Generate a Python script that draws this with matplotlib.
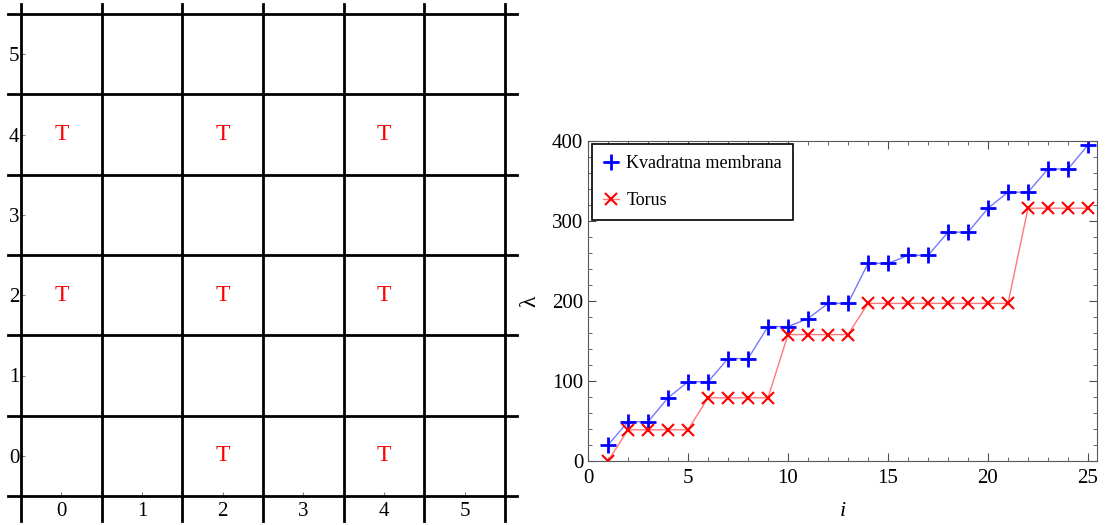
import numpy as np
import matplotlib
matplotlib.use("Agg")
import matplotlib.pyplot as plt

plt.rcParams['font.family'] = ['Liberation Serif', 'DejaVu Serif']

# left panel: 6x6 lattice, cells marked with T
grid_n = 6
t_cells_x = [0, 2, 4, 0, 2, 4, 2, 4]
t_cells_y = [4, 4, 4, 2, 2, 2, 0, 0]

# right panel: eigenvalues
idx = np.arange(1, 26)
membrana = [20, 49, 49, 79, 99, 99, 128, 128, 168, 168, 178, 197, 197,
            247, 247, 257, 257, 286, 286, 316, 336, 336, 365, 365, 395]
torus = [0, 39, 39, 39, 39, 79, 79, 79, 79, 158, 158, 158, 158,
         197, 197, 197, 197, 197, 197, 197, 197, 316, 316, 316, 316]

W, H = 1110, 525
fig = plt.figure(figsize=(W / 100, H / 100), dpi=100)

def px_axes(x0, y0, x1, y1):
    return fig.add_axes([x0 / W, (H - y1) / H, (x1 - x0) / W, (y1 - y0) / H])

# ---- left grid
ax = px_axes(21, 14, 505, 496)
ax.set_xlim(-0.5, grid_n - 0.5)
ax.set_ylim(-0.5, grid_n - 0.5)
for s in ax.spines.values():
    s.set_visible(False)
for k in range(grid_n + 1):
    v = k - 0.5
    ax.plot([-0.661, 5.649], [v, v], color='black', lw=2, clip_on=False)
    ax.plot([v, v], [-0.811, 5.624], color='black', lw=2, clip_on=False)
for cx, cy in zip(t_cells_x, t_cells_y):
    ax.text(cx, cy, 'T', color='red', fontsize=17, ha='center', va='center')
ax.set_xticks(range(grid_n))
ax.set_yticks(range(grid_n))
ax.tick_params(direction='in', length=3, width=0.8, color='0.5',
               labelsize=15, pad=4)
ax.tick_params(axis='y', pad=1)

# ---- right chart
ax2 = px_axes(588, 141, 1097, 461)
ax2.plot(idx, membrana, color='#7878ff', lw=1, marker='+', ms=11, mew=2,
         mec='blue', label='Kvadratna membrana')
ax2.plot(idx, torus, color='#ff7878', lw=1, marker='x', ms=8, mew=1.5,
         mec='red', label='Torus')
ax2.set_xlim(0, 25.45)
ax2.set_ylim(0, 400)
ax2.set_xticks(range(0, 26, 5))
ax2.set_xticks(range(0, 26), minor=True)
ax2.set_yticks(range(0, 401, 100))
ax2.set_yticks(range(0, 401, 20), minor=True)
ax2.tick_params(which='both', direction='in', top=True, right=True,
                labelsize=15, color='0.3')
ax2.tick_params(which='major', length=6)
ax2.tick_params(which='minor', length=3)
ax2.tick_params(axis='x', pad=6)
for s in ax2.spines.values():
    s.set_color('0.35')
ax2.set_xlabel('i', fontsize=16, style='italic', labelpad=10)
ax2.set_ylabel('λ', fontsize=17, labelpad=8)
leg = ax2.legend(loc='upper left', bbox_to_anchor=(0.008, 0.99),
                 borderaxespad=0, fancybox=False, framealpha=1,
                 edgecolor='black', fontsize=13, handlelength=0.9,
                 handletextpad=0.4, labelspacing=1.1, borderpad=0.6)
leg.get_frame().set_linewidth(1.2)

fig.savefig('out.png', dpi=100)
